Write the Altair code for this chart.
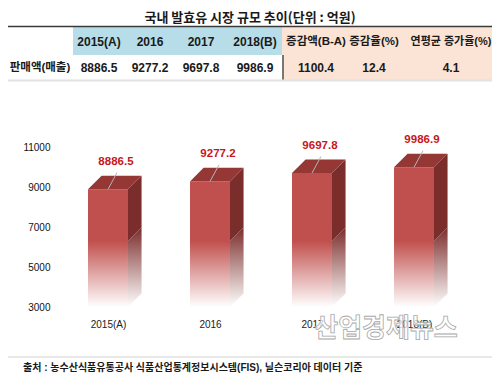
import json
import altair as alt
import pandas as pd

# ---------------- data ----------------
years = ['2015(A)', '2016', '2017', '2018(B)']
sales = [8886.5, 9277.2, 9697.8, 9986.9]
summary_headers = ['증감액(B-A)', '증감율(%)', '연평균 증가율(%)']
summary_values = ['1100.4', '12.4', '4.1']
row_label = '판매액(매출)'
y_ticks = [3000, 5000, 7000, 9000, 11000]
title_text = '국내 발효유 시장 규모 추이(단위 : 억원)'
source_text = '출처 : 농수산식품유통공사 식품산업통계정보시스템(FIS), 닐슨코리아 데이터 기준'
watermark_text = '산업경제뉴스'

# ---------------- style / layout ----------------
NUM = 'Liberation Sans, Noto Sans CJK KR, sans-serif'
KR = 'Noto Sans CJK KR, sans-serif'
FRONT, SIDE, TOPC, LABEL = '#c0504d', '#7b2d2b', '#953735', '#c8161d'
HW, DX, DY = 0.196, 0.133, 680       # bar half width, 3-D depth (x units, y units)
BASE, FADE = 3000, 6300
PL, PT, PW, PH = 49, 139, 408, 160    # plot area inside the svg
TW, TH = 484, 365
OX, OY = 8 + PL, 8 + PT               # plot origin on the page

XS = alt.Scale(domain=[-0.5, len(years) - 0.5], nice=False, zero=False)
YS = alt.Scale(domain=[y_ticks[0], y_ticks[-1]], nice=False, zero=False)
label_expr = json.dumps(years) + '[datum.value]'
XAX = alt.Axis(values=list(range(len(years))), labelExpr=label_expr, title=None,
               domain=False, ticks=False, tickSize=0, grid=False, labelPadding=12,
               labelFont=NUM, labelFontSize=10, labelColor='#222')
YAX = alt.Axis(values=y_ticks, format='d', title=None, domain=False, ticks=False, tickSize=0,
               grid=False, labelPadding=7, labelFont=NUM, labelFontSize=10,
               labelColor='#111')

def X(f):
    return alt.X(f, scale=XS, axis=XAX)

def Y(f):
    return alt.Y(f, scale=YS, axis=YAX)

# ---------------- bar geometry (derived from the data) ----------------
bars = pd.DataFrame({'year': years, 'i': range(len(years)), 'v': sales})
bars['x0'] = bars.i - HW
bars['x1'] = bars.i + HW
bars['base'] = BASE
bars['fade'] = FADE
bars['lx'] = bars.i + 0.088
bars['ly'] = bars.v + 830
bars['tx'] = bars.i + 0.078
bars['ty'] = bars.v + 1360

side_solid, side_fade, top_face = [], [], []
for r in bars.itertuples():
    side_solid += [dict(year=r.year, x=r.x1, lo=FADE, hi=r.v),
                   dict(year=r.year, x=r.x1 + DX, lo=FADE + DY, hi=r.v + DY)]
    side_fade += [dict(year=r.year, x=r.x1, lo=BASE, hi=FADE),
                  dict(year=r.year, x=r.x1 + DX, lo=BASE + DY, hi=FADE + DY)]
    top_face += [dict(year=r.year, x=r.x0, lo=r.v, hi=r.v),
                 dict(year=r.year, x=r.x0 + DX, lo=r.v, hi=r.v + DY),
                 dict(year=r.year, x=r.x1, lo=r.v, hi=r.v + DY),
                 dict(year=r.year, x=r.x1 + DX, lo=r.v + DY, hi=r.v + DY)]
side_solid = pd.DataFrame(side_solid)
side_fade = pd.DataFrame(side_fade)
top_face = pd.DataFrame(top_face)

def grad(c_top, c_bot):
    return {'gradient': 'linear', 'x1': 0, 'y1': 0, 'x2': 0, 'y2': 1,
            'stops': [{'offset': 0, 'color': c_top}, {'offset': 1, 'color': c_bot}]}

base = alt.Chart(bars)
front_solid = base.mark_rect(fill=FRONT).encode(x=X('x0:Q'), x2='x1:Q', y=Y('v:Q'), y2='fade:Q')
front_fade = base.mark_rect(fill=grad(FRONT, '#ffffff')).encode(
    x=X('x0:Q'), x2='x1:Q', y=Y('fade:Q'), y2='base:Q')
side_s = alt.Chart(side_solid).mark_area(fill=SIDE).encode(
    x=X('x:Q'), y=Y('hi:Q'), y2='lo:Q', detail='year:N')
side_f = alt.Chart(side_fade).mark_area(fill=grad(SIDE, '#ffffff')).encode(
    x=X('x:Q'), y=Y('hi:Q'), y2='lo:Q', detail='year:N')
top_s = alt.Chart(top_face).mark_area(fill=TOPC).encode(
    x=X('x:Q'), y=Y('hi:Q'), y2='lo:Q', detail='year:N')
leader = base.mark_rule(color='#b5b5b5', strokeWidth=1).encode(
    x=X('i:Q'), x2='lx:Q', y=Y('v:Q'), y2='ly:Q')
vlabels = base.mark_text(color=LABEL, font=NUM, fontSize=11.5, fontWeight='bold',
                         baseline='middle').encode(
    x=X('tx:Q'), y=Y('ty:Q'), text=alt.Text('v:Q', format='.1f'))

bar_group = alt.layer(front_fade, front_solid, side_f, side_s, top_s, leader, vlabels)

# ---------------- page layer: title, table, footer ----------------
PXS = alt.Scale(domain=[8, 8 + TW], range=[8 - OX, 8 + TW - OX], nice=False, zero=False)
PYS = alt.Scale(domain=[8, 8 + TH], range=[8 - OY, 8 + TH - OY], nice=False, zero=False)

def PX(f):
    return alt.X(f, scale=PXS, axis=None)

def PY(f):
    return alt.Y(f, scale=PYS, axis=None)

COLX = [99, 150, 201, 255, 316, 374, 451]
LABEL_X = 40
HEAD_Y, ROW_Y = 41.5, 67.5

bg = pd.DataFrame([
    dict(x=73, x2=282, y=27, y2=55, c='#b7dee8'),
    dict(x=282, x2=8 + TW, y=27, y2=80, c='#fbe4d5'),
])
bg_l = alt.Chart(bg).mark_rect().encode(
    x=PX('x:Q'), x2='x2:Q', y=PY('y:Q'), y2='y2:Q', fill=alt.Fill('c:N', scale=None))

lines = pd.DataFrame([
    dict(x=8, x2=8 + TW, y=26.5, y2=26.5, c='#3a3a3a', w=1.6),
    dict(x=283, x2=283, y=55, y2=80, c='#5a5a5a', w=1.6),
    dict(x=8, x2=8 + TW, y=80.5, y2=80.5, c='#e2e2e2', w=2),
    dict(x=8, x2=8 + TW, y=357, y2=357, c='#d2d2d2', w=1),
])
lines_l = alt.Chart(lines).mark_rule().encode(
    x=PX('x:Q'), x2='x2:Q', y=PY('y:Q'), y2='y2:Q',
    color=alt.Color('c:N', scale=None), strokeWidth=alt.StrokeWidth('w:Q', scale=None))

head = pd.DataFrame({'t': years + summary_headers, 'x': COLX, 'y': HEAD_Y,
                     's': [12] * len(years) + [11.5, 11.5, 11]})
rowd = pd.DataFrame({'t': [row_label] + [f'{v:.1f}' for v in sales] + summary_values,
                     'x': [LABEL_X] + COLX, 'y': ROW_Y,
                     's': [11.5] + [12] * (len(sales) + len(summary_values))})
cells = pd.concat([head, rowd], ignore_index=True)
cells_l = alt.Chart(cells).mark_text(font=NUM, fontWeight='bold', color='#1a1a1a',
                                     baseline='middle', align='center').encode(
    x=PX('x:Q'), y=PY('y:Q'), text='t:N', size=alt.Size('s:Q', scale=None))

title_l = alt.Chart(pd.DataFrame({'t': [title_text], 'x': [250], 'y': [18]})).mark_text(
    font=KR, fontSize=13, fontWeight='bold', color='#1a1a1a', baseline='middle').encode(
    x=PX('x:Q'), y=PY('y:Q'), text='t:N')

source_l = alt.Chart(pd.DataFrame({'t': [source_text], 'x': [23], 'y': [368]})).mark_text(
    font=NUM, fontSize=10, fontWeight='bold', color='#1a1a1a', baseline='middle',
    align='left').encode(x=PX('x:Q'), y=PY('y:Q'), text='t:N')

wm_l = alt.Chart(pd.DataFrame({'t': [watermark_text], 'x': [386], 'y': [329]})).mark_text(
    font=KR, fontSize=26, fontWeight='bold', fill='#ffffff', fillOpacity=0.75,
    stroke='#a8a8a8', strokeWidth=0.8, baseline='middle').encode(
    x=PX('x:Q'), y=PY('y:Q'), text='t:N')

page_group = alt.layer(bg_l, lines_l, cells_l, title_l, source_l, wm_l)

chart = alt.layer(bar_group, page_group).resolve_scale(
    x='independent', y='independent'
).properties(
    width=PW, height=PH,
    autosize=alt.AutoSizeParams(type='none'),
    padding={'left': PL, 'top': PT, 'right': TW - PL - PW, 'bottom': TH - PT - PH},
    background='#ffffff',
).configure_view(stroke=None)

chart.save('out.html', embed_options={'renderer': 'svg', 'actions': False})
